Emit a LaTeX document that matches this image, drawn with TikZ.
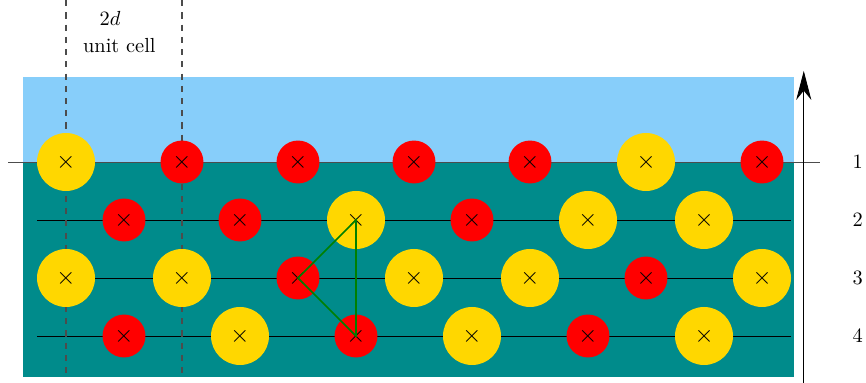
\documentclass[tikz,border=0pt]{standalone}
\usepackage{amssymb}
\usepackage{amsmath}
\usetikzlibrary{arrows.meta}

\definecolor{vacuum}{RGB}{135,206,250}
\definecolor{bulk}{RGB}{0,139,139}
\definecolor{gold}{RGB}{255,215,0}

\tikzset{
  yatom/.style={circle, fill=gold, minimum size=1cm, inner sep=0pt, font=\large},
  ratom/.style={circle, fill=red, minimum size=0.74cm, inner sep=0pt, font=\large}
}

\begin{document}
\begin{tikzpicture}
\useasboundingbox (-1.138,-3.81) rectangle (13.793,2.793);
\fill[vacuum] (-.75, 0) rectangle (12.55, 1.47);
\fill[bulk] (-.75, -3.7) rectangle (12.55, 0);

% layers
\draw[black!70] (-1, 0) --(13, 0);
\foreach \y in {-1,-2,-3}
  \draw (-.5, \y) --(12.5, \y);

% unit cell
\draw[dashed, semithick, black!70] (0, 2.79) --(0, -3.7);
\draw[dashed, semithick, black!70] (2, 2.79) --(2, -3.7);
\node at (.76, 2.48) {$2d$};
\node at (.92, 2.0) {unit cell};

% atoms
\foreach \x/\s in {0/yatom,2/ratom,4/ratom,6/ratom,8/ratom,10/yatom,12/ratom}
  \node[\s] (a\x) at (\x, 0) {$\times$};
\foreach \x/\s in {1/ratom,3/ratom,5/yatom,7/ratom,9/yatom,11/yatom}
  \node[\s] (b\x) at (\x, -1) {$\times$};
\foreach \x/\s in {0/yatom,2/yatom,4/ratom,6/yatom,8/yatom,10/ratom,12/yatom}
  \node[\s] (c\x) at (\x, -2) {$\times$};
\foreach \x/\s in {1/ratom,3/yatom,5/ratom,7/yatom,9/ratom,11/yatom}
  \node[\s] (d\x) at (\x, -3) {$\times$};

\draw[green!50!black, thick] (b5.center) --(c4.center) --(d5.center) --cycle;

% depth axis
\coordinate (bot) at (12.72, -3.81);
\coordinate (top) at (12.72, 1.57);
\draw[-{Stealth[length=5mm, width=2.6mm, inset=1.6mm]}] (bot) --(top);
\node (l1) at (13.65, 0) {1};
\node (l2) at (13.65, -1) {2};
\node (l3) at (13.65, -2) {3};
\node (l4) at (13.65, -3) {4};
\end{tikzpicture}
\end{document}
